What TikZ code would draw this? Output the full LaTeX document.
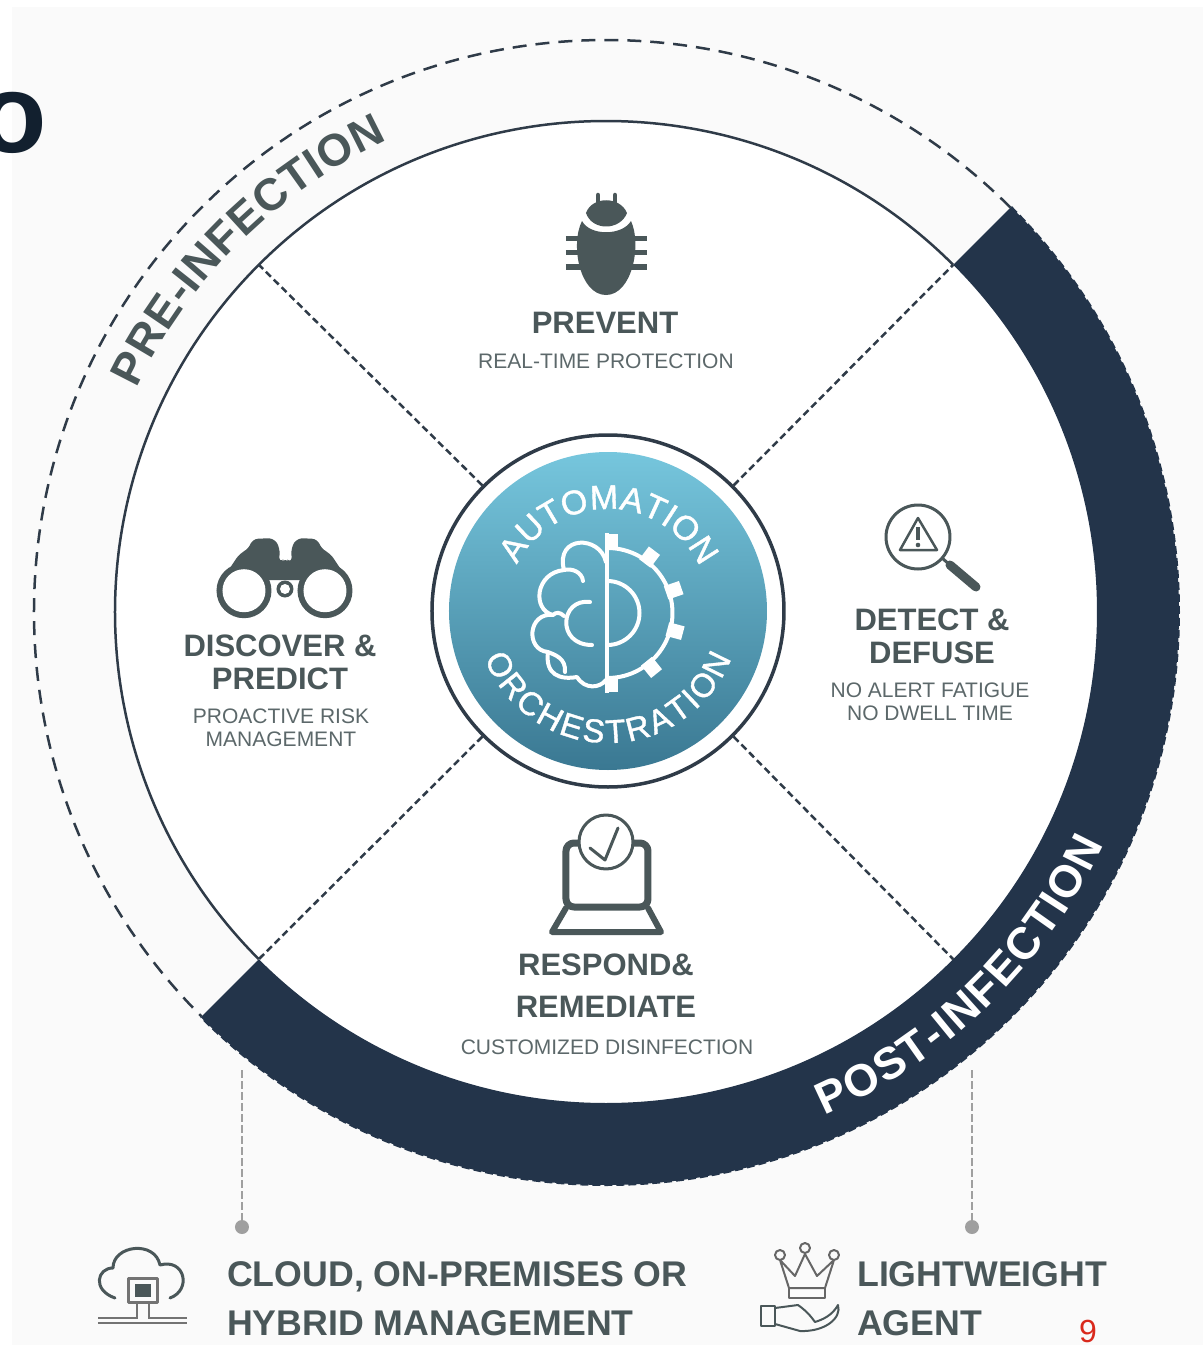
\documentclass[tikz,border=0pt]{standalone}
\usepackage{fontspec}
\setmainfont{Liberation Sans}
\newfontfamily\hubfont[FakeBold=1.2]{Liberation Sans}
\usetikzlibrary{decorations.text}
\definecolor{bandnavy}{HTML}{23344A}
\definecolor{rimdark}{HTML}{2F3B48}
\definecolor{iconslate}{HTML}{4A5759}
\definecolor{subslate}{HTML}{5C686A}
\definecolor{pagegrey}{HTML}{FAFAFA}
\definecolor{titleink}{HTML}{12202F}
\definecolor{markred}{HTML}{D9291C}
\definecolor{hubtop}{HTML}{76C6DD}
\definecolor{hubmid}{HTML}{5EAAC5}
\definecolor{hubbot}{HTML}{3A7892}
\newcommand{\headfont}{\fontsize{31}{33}\selectfont\bfseries}
\newcommand{\subfont}{\fontsize{21}{23}\selectfont}
\newcommand{\footfont}{\fontsize{35.7}{49}\selectfont\bfseries}
\tikzset{
  headline/.style={font=\headfont, text=iconslate, align=center, inner sep=0pt},
  subline/.style={font=\subfont, text=subslate, align=center, inner sep=0pt},
  footline/.style={font=\footfont, text=iconslate, align=left, inner sep=0pt},
  spoke/.style={draw=rimdark, line width=2.5pt, dash pattern=on 7pt off 4pt},
  dropline/.style={draw=gray!75, line width=2pt, dash pattern=on 8pt off 3pt},
  dropdot/.style={circle, fill=gray!75, minimum size=14pt, inner sep=0pt},
  iconline/.style={draw=iconslate, line width=3pt, line join=round, line cap=round},
  brainline/.style={draw=white, line width=4pt, line cap=round, line join=round},
  pxframe/.style={shift={(-606,612)}, y=-1pt}
}
\begin{document}
\begin{tikzpicture}[x=1pt,y=1pt]
    \useasboundingbox (-606,-733) rectangle (597,612);
    \fill[white] (-606,-733) rectangle (597,612);
    \fill[pagegrey] (-594,-733) rectangle (597,605);
    \node[anchor=base, inner sep=0pt, text=titleink, font=\fontsize{112}{112}\selectfont\bfseries] (titlerest) at (-593,459) {o};
    \fill[white] (0,0) circle [radius=491];
    \draw[rimdark, line width=2.5pt] (45:491) arc (45:225:491);
    \fill[bandnavy] (45:573) arc (45:-135:573) -- (-135:491) arc (-135:45:491) -- cycle;
    \draw[rimdark, line width=2.5pt, dash pattern=on 14pt off 9pt] (45:572) arc (45:225:572);
    \draw[bandnavy, line width=2pt, dash pattern=on 8pt off 4pt] (45:573) arc (45:-135:573);
    \coordinate (rimNE) at (45:491);
    \coordinate (rimNW) at (135:491);
    \coordinate (rimSW) at (225:491);
    \coordinate (rimSE) at (-45:491);
    \node[circle, draw=rimdark, line width=3.5pt, fill=white, minimum size=352pt, inner sep=0pt] (hub) at (2,1) {};
    \node[circle, minimum size=318pt, inner sep=0pt, top color=hubtop, middle color=hubmid, bottom color=hubbot] (hubface) at (hub) {};
    \draw[spoke] (hub.45) -- (rimNE);
    \draw[spoke] (hub.135) -- (rimNW);
    \draw[spoke] (hub.225) -- (rimSW);
    \draw[spoke] (hub.-45) -- (rimSE);
    % ring lettering
    \path[decorate, decoration={text along path, text align={fit to path}, text={|\fontsize{45}{45}\selectfont\bfseries\color{iconslate}|PRE-INFECTION}}] (154.5:520) arc (154.5:114.9:520);
    \path[decorate, decoration={text along path, text align={fit to path}, text={|\fontsize{45}{45}\selectfont\bfseries\color{white}|POST-INFECTION}}] (-66.5:549) arc (-66.5:-25:549);
    \begin{scope}[shift={(hub)}]
        \path[decorate, decoration={text along path, text align={fit to path}, text={|\fontsize{34}{34}\selectfont\hubfont\color{white}|AUTOMATION}}] (153:102) arc (153:27:102);
        \path[decorate, decoration={text along path, text align={fit to path}, text={|\fontsize{33}{33}\selectfont\hubfont\color{white}|ORCHESTRATION}}] (201:132) arc (201:339:132);
    \end{scope}
    % gear half
    \begin{scope}[shift={(1.5,-1)}]
        \draw[white, line width=4pt] (90:65) arc (90:-90:65);
        \draw[white, line width=4pt] (90:32) arc (90:-90:32);
        \foreach \ang in {53,19,-15,-51}
            \fill[white, rotate=\ang] (62,-7) rectangle (78,7);
        \fill[white] (0,64) rectangle (11,79);
        \fill[white] (0,-64) rectangle (11,-79);
    \end{scope}
    \begin{scope}[pxframe]
        \draw[white, line width=4pt] (607.5,533) -- (607.5,693);
        \draw[brainline] (606,562) .. controls (600,535) and (555,535) .. (564,570)
            .. controls (535,573) and (532,610) .. (553,615)
            .. controls (528,612) and (525,650) .. (548,652)
            .. controls (545,675) and (560,680) .. (577,677)
            .. controls (585,690) and (600,688) .. (606,680);
        \draw[brainline] (564,570) .. controls (572,568) and (582,572) .. (583,581);
        \draw[brainline] (553,615) .. controls (556,612) and (560,612) .. (564,616);
        \draw[brainline] (590,602) .. controls (560,598) and (556,645) .. (592,645);
        \draw[brainline] (548,652) .. controls (555,655) and (566,658) .. (565,672);

        % bug
        \fill[iconslate] (586,213) .. controls (592,196) and (620,196) .. (627,213) .. controls (620,231) and (592,231) .. (586,213) -- cycle;
        \draw[iconline, line width=4.5pt] (598,195) -- (598,204) (615,195) -- (615,204);
        \fill[iconslate] (582,221) .. controls (590,236) and (622,236) .. (631,221) .. controls (642,245) and (632,295) .. (606,295) .. controls (580,295) and (570,245) .. (582,221) -- cycle;
        \foreach \legy in {239,253,267}
            \draw[iconline, line width=5pt, line cap=butt] (566,\legy) -- (582,\legy) (631,\legy) -- (647,\legy);

        % binoculars
        \fill[iconslate, rounded corners=6pt] (222,580) -- (240,553) -- (249,549) -- (252,539) -- (274,538) -- (280,548) -- (279,563) -- (285,558) -- (292,563) -- (291,548) -- (297,538) -- (318,539) -- (321,549) -- (330,553) -- (348,580) -- cycle;
        \fill[iconslate] (244,590.7) circle [radius=27.5] (325,590.7) circle [radius=27.5] (285,589) circle [radius=8.5];
        \fill[white] (244,590.7) circle [radius=21.5] (325,590.7) circle [radius=21.5] (285,589) circle [radius=5];

        % magnifier
        \draw[iconline] (918,537) circle [radius=32];
        \draw[iconline, line width=2.5pt] (918,518) -- (900,550) -- (937,550) -- cycle;
        \draw[iconslate, line width=4pt] (918,527) -- (918,540);
        \fill[iconslate] (918,545) circle [radius=2.3];
        \draw[iconslate, line width=3pt] (942,558) -- (950,565);
        \draw[iconslate, line width=9pt, line cap=round] (950,565) -- (976,587);

        % laptop
        \draw[iconline, line width=7pt, rounded corners=8pt] (566,907) -- (566,843) -- (648,843) -- (648,907) -- cycle;
        \draw[iconline, line width=6pt] (566,908) -- (552,932) -- (661,932) -- (648,908);
        \draw[iconline, fill=white] (606,842) circle [radius=27];
        \draw[iconline] (590,848) -- (605,860) -- (618,828);

        % cloud
        \draw[iconline] (115,1298) .. controls (92,1290) and (97,1268) .. (113,1268) .. controls (113,1245) and (155,1240) .. (160,1265) .. controls (185,1258) and (192,1290) .. (170,1298);
        \draw[iconline, draw=gray!90!black] (129,1278) rectangle (158,1302);
        \fill[iconslate] (135,1284) rectangle (151,1297);
        \draw[gray!90!black, line width=2pt] (137,1302) -- (137,1318) -- (98,1318) (149,1302) -- (149,1318) -- (187,1318);
        \draw[gray!90!black, line width=2.5pt] (98,1323) -- (187,1323);

        % crown and hand
        \draw[iconline, draw=gray!80!black, line width=2pt] (780,1260) -- (789,1288) -- (825,1288) -- (834,1260) -- (817,1276) -- (805,1254) -- (795,1276) -- cycle;
        \draw[iconline, draw=gray!80!black, line width=2pt] (780,1255) circle [radius=5] (805,1248) circle [radius=5] (834,1255) circle [radius=5];
        \draw[iconline, draw=gray!80!black, line width=2pt] (789,1288) rectangle (825,1298);
        \draw[iconline, line width=2.5pt] (761,1306) rectangle (775,1326);
        \draw[iconline, line width=2pt] (775,1308) -- (798,1305) .. controls (808,1312) and (812,1318) .. (815,1322) .. controls (828,1318) and (834,1312) .. (838,1305) .. controls (842,1318) and (825,1332) .. (800,1331) -- (775,1324);

        % labels
        \node[headline] (prevent) at (605,323) {PREVENT};
        \node[subline] (preventsub) at (606,361) {REAL-TIME PROTECTION};
        \node[headline] (discover) at (280,662) {DISCOVER \&\\PREDICT};
        \node[subline] (discoversub) at (281,728) {PROACTIVE RISK\\MANAGEMENT};
        \node[headline] (detect) at (932,636) {DETECT \&\\DEFUSE};
        \node[subline] (detectsub) at (930,702) {NO ALERT FATIGUE\\NO DWELL TIME};
        \node[headline] (respond) at (606,986) {RESPOND\&\\[9pt]REMEDIATE};
        \node[subline] (respondsub) at (607,1047) {CUSTOMIZED DISINFECTION};
        \node[footline, anchor=west] (cloudtext) at (227,1299) {CLOUD, ON-PREMISES OR\\HYBRID MANAGEMENT};
        \node[footline, anchor=west] (agenttext) at (857,1299) {LIGHTWEIGHT\\AGENT};
        \node[inner sep=0pt, text=markred, font=\fontsize{32}{32}\selectfont] (pagemark) at (1088,1331) {9};

        % drop lines
        \coordinate (dropL) at (242,1070);
        \coordinate (dropR) at (972,1070);
        \node[dropdot] (dotL) at (242,1227) {};
        \node[dropdot] (dotR) at (972,1227) {};
        \draw[dropline] (dropL) -- (dotL);
        \draw[dropline] (dropR) -- (dotR);
    \end{scope}
\end{tikzpicture}
\end{document}
